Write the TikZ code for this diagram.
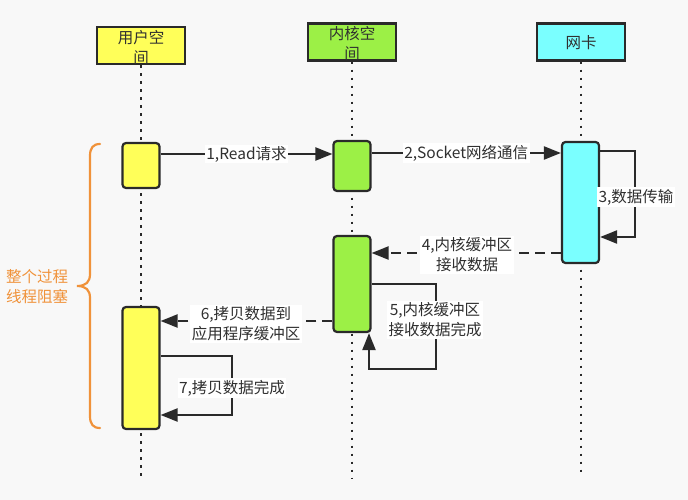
\documentclass[tikz,border=0pt]{standalone}
\usepackage{fontspec}
\setmainfont{Noto Sans CJK SC}
\usetikzlibrary{arrows.meta}
\definecolor{bgc}{HTML}{F8F8F8}
\definecolor{uy}{HTML}{FFFF59}
\definecolor{kg}{HTML}{9CF046}
\definecolor{nc}{HTML}{7AFFFF}
\definecolor{ink}{HTML}{2A2A2A}
\definecolor{tx}{HTML}{303030}
\definecolor{org}{HTML}{F0923A}
\tikzset{
  hdr/.style={draw=ink, line width=2.2pt, rectangle, minimum width=88pt, minimum height=37pt, inner sep=0pt},
  txt/.style={text=tx, font=\fontsize{15.5}{20}\selectfont, align=center, inner sep=1pt},
  lbl/.style={txt, fill=white, inner sep=1.5pt},
  act/.style={draw=ink, line width=2.2pt, rectangle, rounded corners=3.5pt, minimum width=37pt, inner sep=0pt},
  life/.style={ink, line width=2.6pt, dash pattern=on 2.6pt off 5.4pt},
  arr/.style={ink, line width=2.2pt, -{Triangle[length=17pt,width=13pt]}},
  darr/.style={arr, dash pattern=on 10pt off 6pt},
  bracepath/.style={org, line width=2.2pt, line cap=round}
}
\begin{document}
\begin{tikzpicture}[x=1pt,y=-1pt]
\fill[bgc] (0,0) rectangle (688,500);
\useasboundingbox (0,0) rectangle (688,500);
% headers
\node[hdr, fill=uy] (hu) at (141,45.5) {};
\node[hdr, fill=kg] (hk) at (352,42) {};
\node[hdr, fill=nc] (hn) at (581,42) {};
\node[txt] (hut) at (141,48) {用户空\\间};
\node[txt] (hkt) at (352,44) {内核空\\间};
\node[txt] (hnt) at (581,43) {网卡};
% lifelines
\draw[life] (hu.south) -- (hu.south |- 0,476);
\draw[life] (hk.south) -- (hk.south |- 0,478);
\draw[life] (hn.south) -- (hn.south |- 0,476);
% activations
\node[act, fill=uy, minimum height=45pt] (u1) at (141,165.5) {};
\node[act, fill=uy, minimum height=122pt] (u2) at (141,368) {};
\node[act, fill=kg, minimum height=50pt] (k1) at (352,166) {};
\node[act, fill=kg, minimum height=96pt] (k2) at (352,284) {};
\node[act, fill=nc, minimum height=121pt] (n1) at (580.5,202.5) {};
% messages
\draw[arr] (u1.east |- 0,154) -- (k1.west |- 0,154) node[lbl, pos=0.5] (l1) {1,Read请求};
\draw[arr] (k1.east |- 0,153) -- (n1.west |- 0,153) node[lbl, pos=0.5] (l2) {2,Socket网络通信};
\draw[arr] (n1.east |- 0,151) -- (635,151) -- (635,237) -- (n1.east |- 0,237);
\node[lbl] (l3) at (636,197) {3,数据传输};
\draw[darr] (n1.west |- 0,253) -- (k2.east |- 0,253);
\node[lbl] (l4) at (467,255) {4,内核缓冲区\\接收数据};
\draw[arr] (k2.east |- 0,284) -- (436,284) -- (436,369) -- (369,369) -- (k2.south -| 369,0);
\node[lbl] (l5) at (435,320) {5,内核缓冲区\\接收数据完成};
\draw[darr] (k2.west |- 0,321) -- (u2.east |- 0,321);
\node[lbl] (l6) at (246,324) {6,拷贝数据到\\应用程序缓冲区};
\draw[arr] (u2.east |- 0,356) -- (232,356) -- (232,415) -- (u2.east |- 0,415);
\node[lbl] (l7) at (232,388) {7,拷贝数据完成};
% brace
\draw[bracepath] (100,144) .. controls (93,144) and (90,148) .. (90,156) -- (90,274)
  .. controls (90,282) and (86,286) .. (77,286)
  .. controls (86,286) and (90,290) .. (90,298) -- (90,416)
  .. controls (90,424) and (93,428) .. (100,428);
\node[txt, text=org] (bl) at (37,287) {整个过程\\线程阻塞};
\end{tikzpicture}
\end{document}
